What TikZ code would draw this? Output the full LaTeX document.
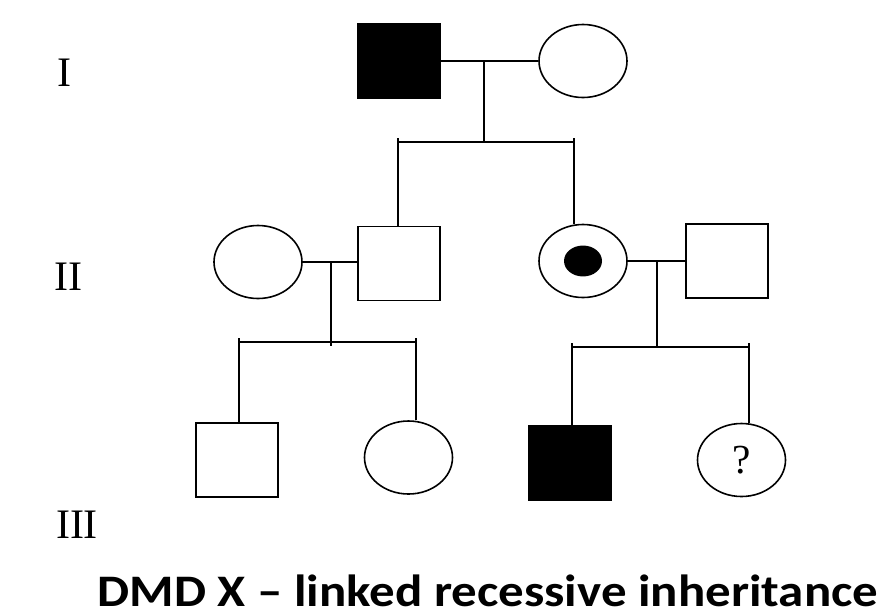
\documentclass[tikz,border=0pt]{standalone}
\usepackage{fontspec}
\setmainfont{Liberation Serif}
\newfontfamily\captionfont{Carlito}
\usetikzlibrary{positioning,shapes.geometric}
\tikzset{
  every node/.style={inner sep=0pt},
  % --- individuals
  male/.style    = {rectangle, draw=black, line width=1.2pt, fill=white,
                    minimum width=61.5pt, minimum height=55.5pt},
  female/.style  = {ellipse, draw=black, line width=1.2pt, fill=white,
                    minimum width=66pt, minimum height=54.75pt},
  affected/.style= {fill=black},
  carrier/.style = {female, path picture={\fill[black]
                    (path picture bounding box.center) ellipse (14.25pt and 11.6pt);}},
  % --- lines and labels
  link/.style    = {draw=black, line width=1.2pt},
  gen/.style     = {anchor=base, font=\fontsize{31.5}{34}\selectfont},
  ttl/.style     = {anchor=base, text depth=0pt,
                    font=\captionfont\bfseries\fontsize{33.8}{36}\selectfont},
}
\begin{document}
\begin{tikzpicture}[x=0.75pt,y=-0.75pt]
  \useasboundingbox (0,0) rectangle (892,615);

  % generation labels
  \node[gen] (lI)   at (64.5,86)  {I};
  \node[gen] (lII)  at (68.5,290) {II};
  \node[gen] (lIII) at (77,538)   {III};

  % generation I
  \node[male,affected] (pI1) at (399,61) {};
  \node[female]        (pI2) at (583,61) {};
  \draw[link] (pI1.east) -- (pI2.west);
  \coordinate (mI) at (484,61);
  \coordinate (sibIl) at (398,142);
  \coordinate (sibIr) at (574,142);

  % generation II
  \node[female]  (pII1) at (258,262) {};
  \node[male]    (pII2) at (399,263.5) {};
  \node[carrier] (pII3) at (583,261) {};
  \node[male]    (pII4) at (727,261) {};
  \draw[link] (pII1.east) -- (pII1.east -| pII2.west);
  \draw[link] (pII3.east) -- (pII4.west);
  \coordinate (mIIa) at (331,262);
  \coordinate (mIIb) at (657,261);
  \coordinate (sibIIal) at (239,342);
  \coordinate (sibIIar) at (416,342);
  \coordinate (sibIIbl) at (572,347);
  \coordinate (sibIIbr) at (749,347);

  % generation III
  \node[male]            (pIII1) at (237,460) {};
  \node[female]          (pIII2) at (408.5,457.5) {};
  \node[male,affected]   (pIII3) at (570,463) {};
  \node[female]          (pIII4) at (741.5,460) {\fontsize{31}{33}\selectfont ?};

  % descent lines
  \draw[link] (mI) -- (mI |- sibIl);
  \draw[link] (sibIl) -- (sibIr);
  \draw[link] ([yshift=3pt]sibIl) -- (sibIl |- pII2.north);
  \draw[link] ([yshift=3pt]sibIr) -- (sibIr |- pII3.north);

  \draw[link] (mIIa) -- ([yshift=-3pt]mIIa |- sibIIal);
  \draw[link] (sibIIal) -- (sibIIar);
  \draw[link] ([yshift=3pt]sibIIal) -- (sibIIal |- pIII1.north);
  \draw[link] ([yshift=3pt]sibIIar) -- (sibIIar |- pIII2.north);

  \draw[link] (mIIb) -- (mIIb |- sibIIbl);
  \draw[link] (sibIIbl) -- (sibIIbr);
  \draw[link] ([yshift=3pt]sibIIbl) -- (sibIIbl |- pIII3.north);
  \draw[link] ([yshift=3pt]sibIIbr) -- (sibIIbr |- pIII4.north);

  % caption
  \node[ttl] (title) at (488,606) {\scalebox{1.13}[1]{DMD X – linked recessive inheritance}};
\end{tikzpicture}
\end{document}
